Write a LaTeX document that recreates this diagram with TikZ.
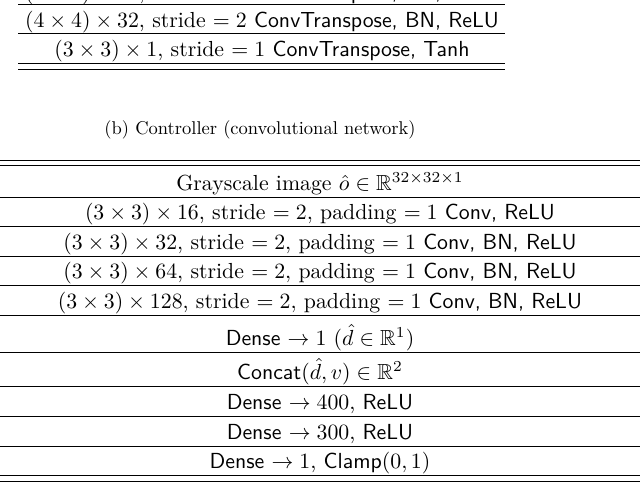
\documentclass[tikz,border=0pt]{standalone}
\usepackage{amssymb}
\begin{document}
\begin{tikzpicture}[x=1pt,y=-1pt,
  rule/.style={line width=0.9pt},
  cell/.style={anchor=base,inner sep=0pt,font=\normalsize,scale=2.18}]
\useasboundingbox (0,0) rectangle (640,483);
\begin{scope}
\clip (0,0) rectangle (640,483);
\node[cell] (r0) at (262,-1) {$(4\times4)\times 64$, stride $=2$ \textsf{ConvTranspose, BN, ReLU}};
\end{scope}
% top table
\draw[rule] (18,4) -- (505,4);
\node[cell] (r1) at (262,27) {$(4\times4)\times 32$, stride $=2$ \textsf{ConvTranspose, BN, ReLU}};
\draw[rule] (18,33) -- (505,33);
\node[cell] (r2) at (262,56) {$(3\times3)\times 1$, stride $=1$ \textsf{ConvTranspose, Tanh}};
\draw[rule] (18,63.5) -- (505,63.5);
\draw[rule] (18,69.5) -- (505,69.5);
\node[anchor=base,inner sep=0pt,font=\normalsize,scale=1.85] (cap) at (260,134) {(b) Controller (convolutional network)};
% bottom table
\draw[rule] (0,160) -- (640,160);
\draw[rule] (0,165.5) -- (640,165.5);
\node[cell] (b1) at (320,190) {Grayscale image $\hat{o}\in\mathbb{R}^{32\times32\times1}$};
\draw[rule] (0,197) -- (640,197);
\node[cell] (b2) at (320,219) {$(3\times3)\times16$, stride $=2,$ padding $=1$ \textsf{Conv, ReLU}};
\draw[rule] (0,226) -- (640,226);
\node[cell] (b3) at (320,249) {$(3\times3)\times32$, stride $=2,$ padding $=1$ \textsf{Conv, BN, ReLU}};
\draw[rule] (0,256) -- (640,256);
\node[cell] (b4) at (320,278) {$(3\times3)\times64$, stride $=2,$ padding $=1$ \textsf{Conv, BN, ReLU}};
\draw[rule] (0,285) -- (640,285);
\node[cell] (b5) at (320,308) {$(3\times3)\times128$, stride $=2,$ padding $=1$ \textsf{Conv, BN, ReLU}};
\draw[rule] (0,315.5) -- (640,315.5);
\node[cell] (b6) at (320,345) {\textsf{Dense} $\rightarrow 1$ $(\hat{d}\in\mathbb{R}^1)$};
\draw[rule] (0,352) -- (640,352);
\node[cell] (b7) at (320,379) {\textsf{Concat}$(\hat{d},v)\in\mathbb{R}^2$};
\draw[rule] (0,386) -- (640,386);
\node[cell] (b8) at (320,409) {\textsf{Dense} $\rightarrow 400$, \textsf{ReLU}};
\draw[rule] (0,416) -- (640,416);
\node[cell] (b9) at (320,439) {\textsf{Dense} $\rightarrow 300$, \textsf{ReLU}};
\draw[rule] (0,446) -- (640,446);
\node[cell] (b10) at (320,468) {\textsf{Dense} $\rightarrow 1$, \textsf{Clamp}$(0,1)$};
\draw[rule] (0,475.5) -- (640,475.5);
\draw[rule] (0,481.5) -- (640,481.5);
\end{tikzpicture}
\end{document}
